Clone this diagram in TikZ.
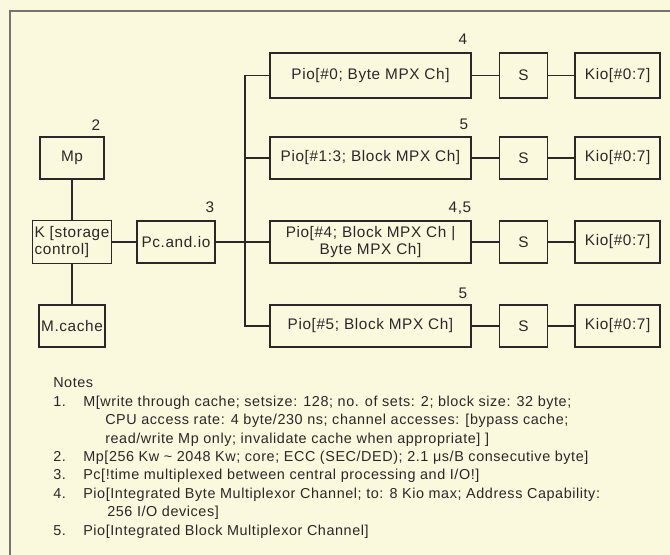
\documentclass[tikz,border=0pt]{standalone}
\usepackage{fontspec}
\setmainfont{Liberation Sans}[LetterSpace=4]
\usepackage{xcolor}
\usetikzlibrary{positioning}
\definecolor{paper}{RGB}{250,249,222}
\definecolor{ink}{RGB}{45,38,40}

\begin{document}
\begin{tikzpicture}[
    x=0.75pt, y=-0.75pt,
    font=\fontsize{11.5}{13}\selectfont,
    blk/.style={rectangle, draw=ink, line width=1.3pt, minimum height=31.5pt,
      inner sep=1.5pt, text=ink},
    pio/.style={blk, minimum width=150.75pt, align=center},
    sw/.style={blk, minimum width=36pt},
    kio/.style={blk, minimum width=63.75pt},
    num/.style={inner sep=0pt, text=ink},
    wire/.style={draw=ink, line width=1.3pt},
    note/.style={anchor=base west, inner sep=0pt, text=ink, font=\fontsize{10.8}{12}\selectfont}
  ]
  \fill[paper] (0,0) rectangle (670,555);
  \useasboundingbox (0,0) rectangle (670,555);
  \draw[draw=ink!65, line width=1.4pt] (10,555) -- (10,11) -- (670,11);

  % memory side
  \node[blk, minimum width=48pt] (mp) at (72,158) {Mp};
  \node[blk, minimum width=58.5pt, minimum height=32.25pt, align=left] (k) at (72,242)
    {K [storage\\control]};
  \node[blk, minimum width=47.25pt] (mcache) at (72,326) {M.cache};
  \node[blk, minimum width=58.5pt] (pc) at (176,242) {Pc.and.io};
  \node[num] (lmp) at (96,125) {2};
  \node[num] (lpc) at (210,207) {3};
  \draw[wire] (mp) -- (k); \draw[wire] (k) -- (mcache); \draw[wire] (k) -- (pc);

  % channels
  \node[pio, minimum height=33.75pt] (pio0) at (370.5,75.5) {Pio[\#0; Byte MPX Ch]};
  \node[sw, minimum height=33.75pt, right=20pt of pio0] (s0) {S};
  \node[kio, minimum height=33.75pt, right=19.5pt of s0] (kio0) {Kio[\#0:7]};
  \node[pio] (pio1) at (370.5,158) {Pio[\#1:3; Block MPX Ch]};
  \node[sw, right=20pt of pio1] (s1) {S};
  \node[kio, right=19.5pt of s1] (kio1) {Kio[\#0:7]};
  \node[pio, font=\fontsize{11.5}{12.5}\selectfont] (pio2) at (370.5,242)
    {Pio[\#4; Block MPX Ch |\\Byte MPX Ch]};
  \node[sw, right=20pt of pio2] (s2) {S};
  \node[kio, right=19.5pt of s2] (kio2) {Kio[\#0:7]};
  \node[pio] (pio3) at (370.5,326) {Pio[\#5; Block MPX Ch]};
  \node[sw, right=20pt of pio3] (s3) {S};
  \node[kio, right=19.5pt of s3] (kio3) {Kio[\#0:7]};
  \node[num] (lpio0) at (463,39) {4};
  \node[num] (lpio1) at (464,124) {5};
  \node[num] (lpio2) at (460,208) {4,5};
  \node[num] (lpio3) at (463,293) {5};
  \draw[wire] (pio0) -- (s0) -- (kio0);
  \draw[wire] (pio1) -- (s1) -- (kio1);
  \draw[wire] (pio2) -- (s2) -- (kio2);
  \draw[wire] (pio3) -- (s3) -- (kio3);

  % bus
  \coordinate (bus) at (245,242);
  \draw[wire] (pc) -- (pio2);
  \draw[wire] (pio0.west) -- (pio0.west -| bus) -- (pio3.west -| bus) -- (pio3.west);
  \draw[wire] (pio1.west) -- (pio1.west -| bus);

  % notes
  \node[note] (nhead) at (53,387.5) {Notes};
  \node[note] (n1) at (53,406) {1.};
  \node[note] (t1) at (83,406) {M[write through cache; setsize: 128; no. of sets: 2; block size: 32 byte;};
  \node[note] (t1b) at (105,424.5) {CPU access rate: 4 byte/230 ns; channel accesses: [bypass cache;};
  \node[note] (t1c) at (105,443) {read/write Mp only; invalidate cache when appropriate] ]};
  \node[note] (n2) at (53,461) {2.};
  \node[note] (t2) at (83,461) {Mp[256 Kw \textasciitilde{} 2048 Kw; core; ECC (SEC/DED); 2.1 μs/B consecutive byte]};
  \node[note] (n3) at (53,479.5) {3.};
  \node[note] (t3) at (83,479.5) {Pc[!time multiplexed between central processing and I/O!]};
  \node[note] (n4) at (53,498) {4.};
  \node[note] (t4) at (83,498) {Pio[Integrated Byte Multiplexor Channel; to: 8 Kio max; Address Capability:};
  \node[note] (t4b) at (107,516.5) {256 I/O devices]};
  \node[note] (n5) at (53,535) {5.};
  \node[note] (t5) at (83,535) {Pio[Integrated Block Multiplexor Channel]};
\end{tikzpicture}
\end{document}
